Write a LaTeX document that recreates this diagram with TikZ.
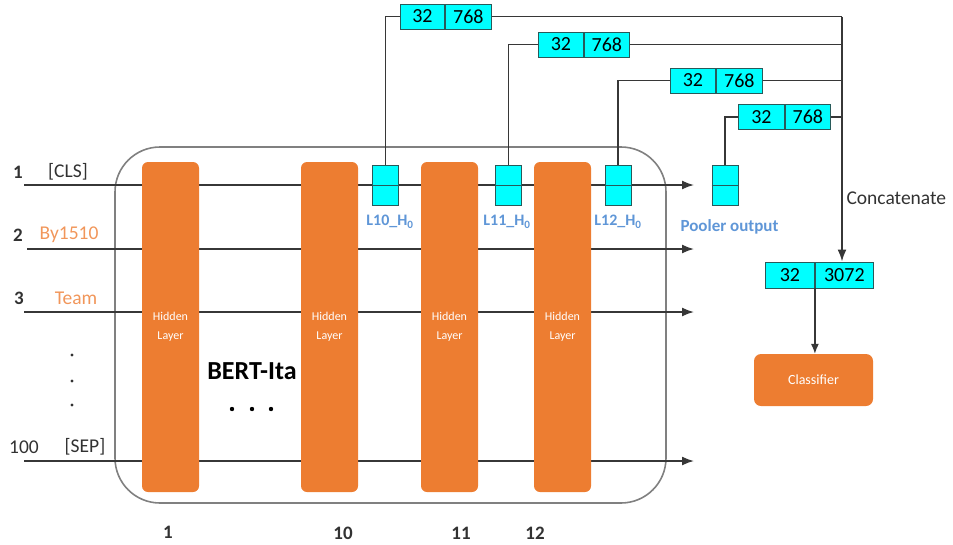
\documentclass[tikz,border=0pt]{standalone}
\usepackage{fontspec}
\setmainfont{Carlito}
\usetikzlibrary{arrows.meta}
\definecolor{orng}{RGB}{237,125,49}
\definecolor{lorng}{RGB}{241,150,90}
\definecolor{cyn}{RGB}{0,255,255}
\definecolor{cynb}{RGB}{40,90,90}
\definecolor{lblue}{RGB}{95,150,215}
\definecolor{dline}{RGB}{55,55,55}
\definecolor{dtext}{RGB}{50,50,50}
\tikzset{
  hl/.style={fill=orng, rounded corners=6pt, minimum width=57pt, minimum height=330pt, inner sep=0pt,
     text=white, font=\fontsize{12}{19}\selectfont, align=center},
  cbox/.style={fill=cyn, draw=cynb, line width=0.9pt, minimum width=26pt, minimum height=40pt, inner sep=0pt},
  part/.style={fill=cyn, draw=cynb, line width=0.9pt, minimum height=25pt, inner sep=0pt, anchor=west,
     font=\fontsize{20}{20}\selectfont, text=black},
  rowline/.style={draw=dline, line width=1.6pt, -{Latex[length=12pt,width=9pt]}},
  conn/.style={draw=dline, line width=1.4pt},
  lbl/.style={font=\fontsize{19.5}{19.5}\selectfont, text=dtext},
  nlbl/.style={font=\bfseries\fontsize{19}{19}\selectfont, text=dtext},
  blbl/.style={font=\bfseries\fontsize{16}{16}\selectfont, text=lblue},
}
\begin{document}
\begin{tikzpicture}[x=1pt,y=-1pt]
\path[use as bounding box] (0,0) rectangle (953,544);
% frame
\node[draw=gray, line width=1.6pt, rounded corners=45pt, minimum width=551pt, minimum height=356pt] (bert) at (390.5,325) {};
% row lines
\coordinate (r1s) at (24,185); \coordinate (r1e) at (694,185);
\coordinate (r2s) at (27,249); \coordinate (r2e) at (694,249);
\coordinate (r3s) at (24,312); \coordinate (r3e) at (694,312);
\coordinate (r4s) at (24,461); \coordinate (r4e) at (694,461);
\draw[rowline] (r1s) -- (r1e);
\draw[rowline] (r2s) -- (r2e);
\draw[rowline] (r3s) -- (r3e);
\draw[rowline] (r4s) -- (r4e);
% hidden layers
\node[hl] (h1) at (170.5,327) {Hidden\\Layer};
\node[hl] (h10) at (329.5,327) {Hidden\\Layer};
\node[hl] (h11) at (449.5,327) {Hidden\\Layer};
\node[hl] (h12) at (562.5,327) {Hidden\\Layer};
% row labels
\node[nlbl] (n1) at (18,172) {1};
\node[lbl] (cls) at (68,172) {[CLS]};
\node[nlbl] (n2) at (18,235) {2};
\node[lbl, text=lorng] (by) at (69,235) {By1510};
\node[nlbl] (n3) at (19,298) {3};
\node[lbl, text=lorng] (team) at (76,298) {Team};
\fill[dtext] (72,355) circle (1.7pt);
\fill[dtext] (72,381) circle (1.7pt);
\fill[dtext] (72,405) circle (1.7pt);
\node[lbl] (n100) at (24,447) {100};
\node[lbl] (sep) at (85,447) {[SEP]};
% bottom numbers
\node[nlbl] (b1) at (168,532) {1};
\node[nlbl] (b10) at (343,533) {10};
\node[nlbl] (b11) at (461,533) {11};
\node[nlbl] (b12) at (535,533) {12};
% BERT-Ita
\node[font=\bfseries\fontsize{26}{26}\selectfont] (bt) at (252,371) {BERT-Ita};
\fill (232,409) circle (2.2pt);
\fill (252,409) circle (2.2pt);
\fill (271,409) circle (2.2pt);
% small cyan boxes
\node[cbox] (l10) at (385.5,185) {};
\node[cbox] (l11) at (508.5,185) {};
\node[cbox] (l12) at (618,185) {};
\node[cbox] (pool) at (725,185) {};
\foreach \b in {l10,l11,l12,pool} \draw[cynb, line width=0.9pt] (\b.west) -- (\b.east);
\node[blbl] (t10) at (390,222) {L10\_H\textsubscript{0}};
\node[blbl] (t11) at (507,222) {L11\_H\textsubscript{0}};
\node[blbl] (t12) at (618,222) {L12\_H\textsubscript{0}};
\node[blbl, font=\bfseries\fontsize{17}{17}\selectfont] (tp) at (729.5,227) {Pooler output};
% top boxes
\node[part, minimum width=44pt] (a1) at (400,16.5) {32};
\node[part, minimum width=46pt] (a2) at (a1.east) {768};
\node[part, minimum width=45pt] (c1) at (538,44.5) {32};
\node[part, minimum width=45pt] (c2) at (c1.east) {768};
\node[part, minimum width=45pt] (d1) at (670,80.5) {32};
\node[part, minimum width=46pt] (d2) at (d1.east) {768};
\node[part, minimum width=46pt] (e1) at (738,117) {32};
\node[part, minimum width=45pt] (e2) at (e1.east) {768};
% result box
\node[part, minimum width=49pt, minimum height=26pt] (f1) at (765,275) {32};
\node[part, minimum width=58pt, minimum height=26pt] (f2) at (f1.east) {3072};
% classifier
\node[fill=orng, rounded corners=7pt, minimum width=119pt, minimum height=52pt, text=white,
      font=\fontsize{14}{14}\selectfont] (clf) at (813.5,380) {Classifier};
% connectors up
\draw[conn] (l10.north) |- (a1.west);
\draw[conn] (l11.north) |- (c1.west);
\draw[conn] (l12.north) |- (d1.west);
\draw[conn] (pool.north) |- (e1.west);
\coordinate (ctop) at (842,16.5);
\draw[conn] (a2.east) -- (ctop);
\draw[conn] (c2.east) -- (c2.east -| ctop);
\draw[conn] (d2.east) -- (d2.east -| ctop);
\draw[conn] (e2.east) -- (e2.east -| ctop);
\draw[conn, line width=1.8pt, -{Latex[length=12pt,width=9pt]}] (ctop) -- (ctop |- f2.north);
\node[anchor=west, font=\fontsize{19.5}{19.5}\selectfont, text=dtext] (cc) at (843,198) {Concatenate};
\draw[conn, line width=1.2pt, -{Latex[length=10pt,width=8pt]}] (f1.south east) -- (f1.south east |- clf.north);
\end{tikzpicture}
\end{document}
